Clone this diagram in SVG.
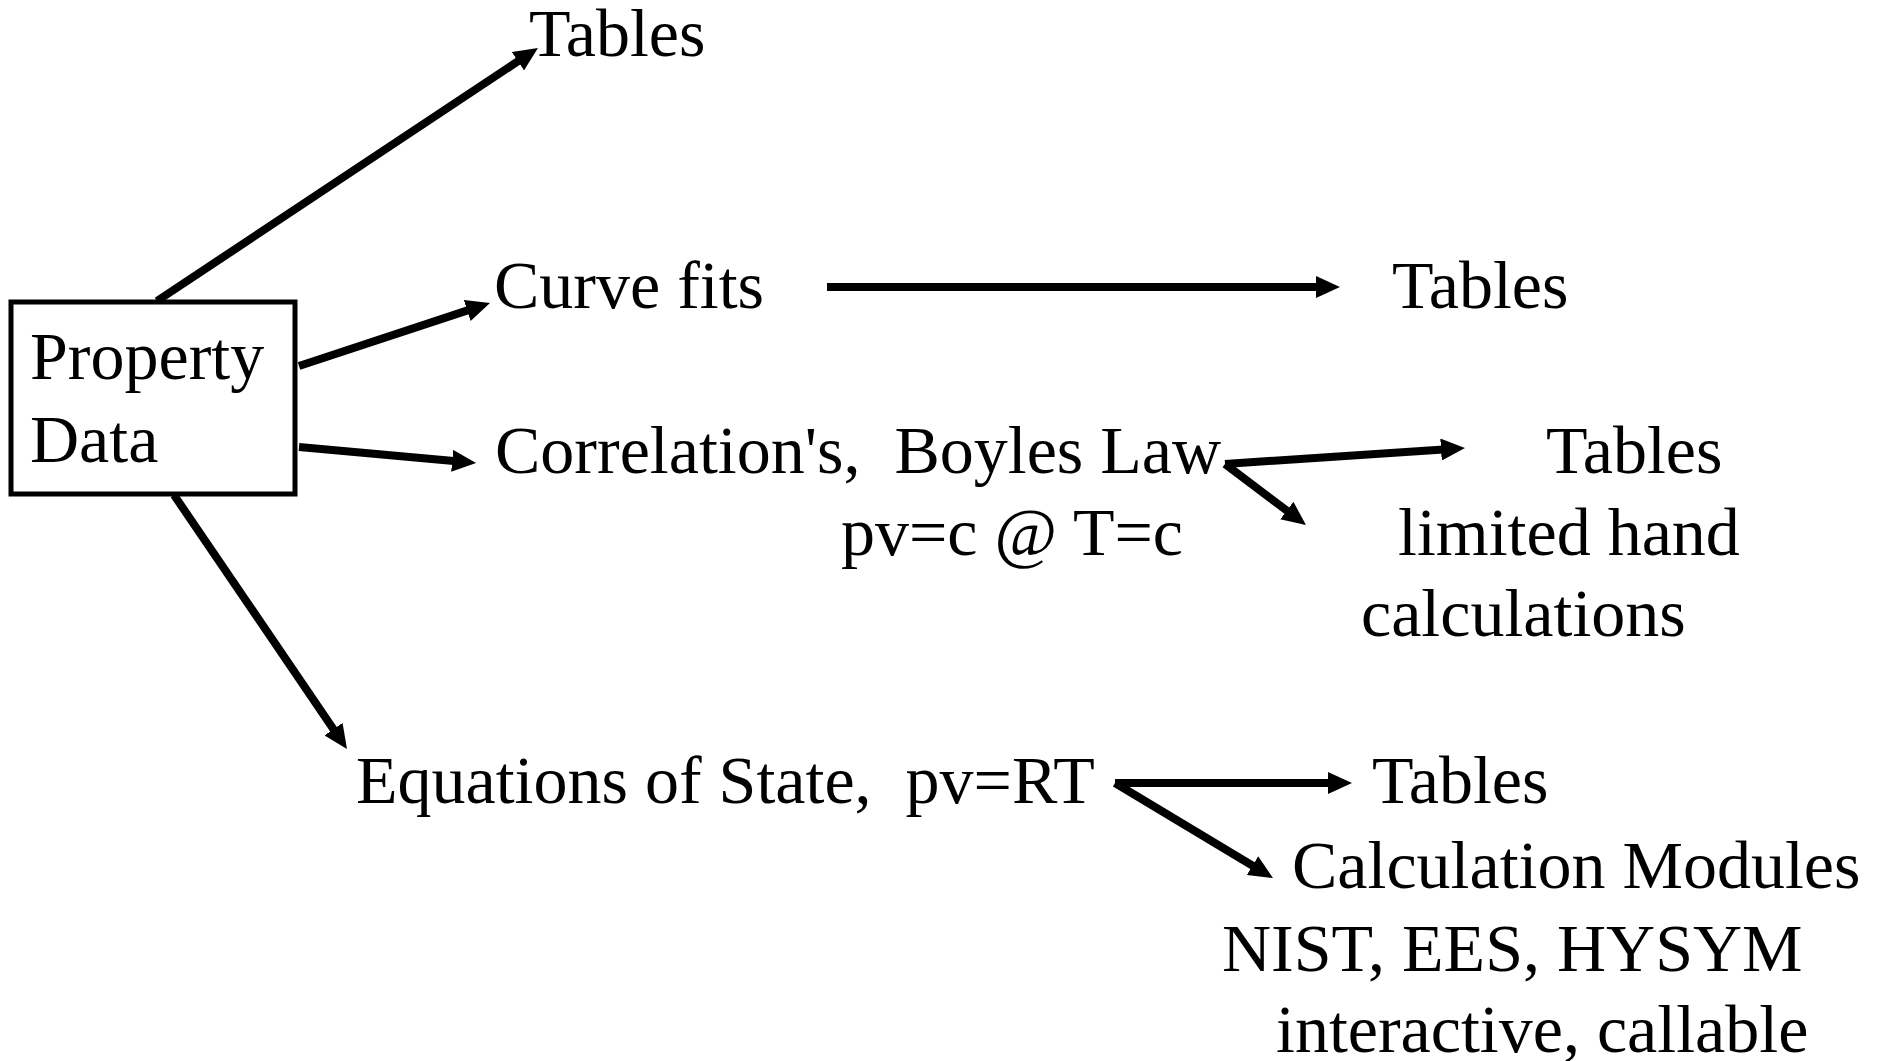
<svg xmlns="http://www.w3.org/2000/svg" width="1880" height="1061" viewBox="0 0 1880 1061">
<style>
.t{font-family:"Liberation Serif","Times New Roman",serif;font-size:68px;fill:#000;white-space:pre}
.c{stroke:#000;stroke-width:8;fill:none}
</style>
<defs>
<marker id="ah" markerUnits="userSpaceOnUse" markerWidth="24" markerHeight="22" refX="10" refY="11" orient="auto">
<path d="M0,0 L24,11 L0,22 Z" fill="#000"/>
</marker>
</defs>
<rect width="1880" height="1061" fill="#fff"/>
<g id="property-data">
<rect x="11" y="302" width="284" height="192" fill="none" stroke="#000" stroke-width="5"/>
<text class="t" x="30" y="379">Property</text>
<text class="t" x="30" y="462">Data</text>
</g>
<g id="tables-top"><text class="t" x="529" y="56">Tables</text></g>
<g id="curve-fits"><text class="t" x="494" y="308">Curve fits</text></g>
<g id="tables-curve"><text class="t" x="1392" y="308">Tables</text></g>
<g id="correlations"><text class="t" x="495" y="473" xml:space="preserve">Correlation's,  Boyles Law</text>
<text class="t" x="841" y="555">pv=c @ T=c</text></g>
<g id="tables-corr"><text class="t" x="1546" y="473">Tables</text></g>
<g id="limited-hand"><text class="t" x="1398" y="555">limited hand</text>
<text class="t" x="1361" y="636">calculations</text></g>
<g id="equations"><text class="t" x="356" y="803" xml:space="preserve">Equations of State,  pv=RT</text></g>
<g id="tables-eq"><text class="t" x="1372" y="803">Tables</text></g>
<g id="calc-modules"><text class="t" x="1292" y="888">Calculation Modules</text>
<text class="t" x="1222" y="971">NIST, EES, HYSYM</text>
<text class="t" x="1276" y="1052">interactive, callable</text></g>
<g id="connectors">
<line class="c" x1="157" y1="301" x2="526.3" y2="55.7" marker-end="url(#ah)"/>
<line class="c" x1="299" y1="366" x2="476.7" y2="307.4" marker-end="url(#ah)"/>
<line class="c" x1="299" y1="447" x2="462.1" y2="461.7" marker-end="url(#ah)"/>
<line class="c" x1="174" y1="495" x2="339.1" y2="737.4" marker-end="url(#ah)"/>
<line class="c" x1="827" y1="287" x2="1326" y2="287" marker-end="url(#ah)"/>
<line class="c" x1="1225" y1="464" x2="1451" y2="448.9" marker-end="url(#ah)"/>
<line class="c" x1="1225" y1="464" x2="1294.8" y2="516.6" marker-end="url(#ah)"/>
<line class="c" x1="1115" y1="783" x2="1338" y2="783" marker-end="url(#ah)"/>
<line class="c" x1="1115" y1="783" x2="1261" y2="870.8" marker-end="url(#ah)"/>
</g>
</svg>
